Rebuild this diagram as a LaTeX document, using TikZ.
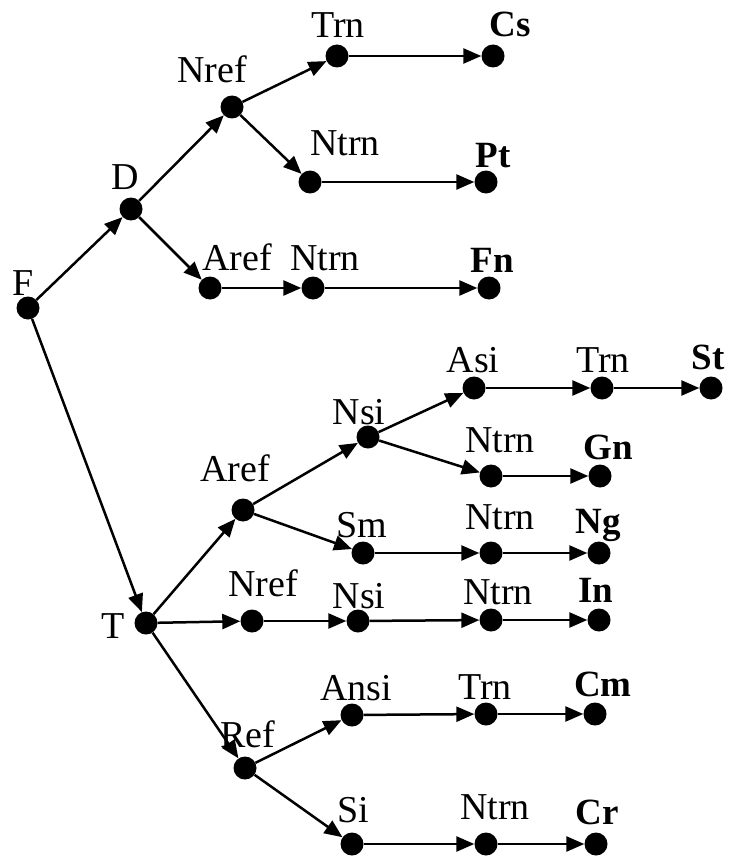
\documentclass[tikz,border=0pt]{standalone}
\usepackage{fontspec}
\setmainfont{Liberation Serif}
\usetikzlibrary{arrows.meta}
\begin{document}
\begin{tikzpicture}[x=1pt,y=-1pt,
  dot/.style={circle,fill=black,inner sep=0pt,minimum size=23pt},
  lbl/.style={inner sep=0pt,text height=25pt,text depth=0pt,
              font=\fontsize{38}{38}\selectfont},
  blbl/.style={lbl,font=\fontsize{37}{37}\selectfont\bfseries},
  edge/.style={line width=2.5pt,-{Triangle[length=18pt,width=15pt]}}]
\useasboundingbox (0,0) rectangle (729,856);
% states
\node[dot] (F) at (28,308) {};
\node[dot] (D) at (131,209) {};
\node[dot] (nrefA) at (232,107) {};
\node[dot] (trnA) at (337,56) {};
\node[dot] (cs) at (493,56) {};
\node[dot] (ntrnA) at (310,182) {};
\node[dot] (pt) at (486,182) {};
\node[dot] (arefA) at (210,288) {};
\node[dot] (ntrnB) at (313,288) {};
\node[dot] (fn) at (489,288) {};
\node[dot] (T) at (146,623) {};
\node[dot] (arefB) at (243,510) {};
\node[dot] (nsiA) at (368,437) {};
\node[dot] (asi) at (474,388) {};
\node[dot] (trnB) at (602,388) {};
\node[dot] (st) at (711,388) {};
\node[dot] (ntrnC) at (491,476) {};
\node[dot] (gn) at (600,476) {};
\node[dot] (sm) at (363,553) {};
\node[dot] (ntrnD) at (491,553) {};
\node[dot] (ng) at (599,553) {};
\node[dot] (nrefB) at (252,621) {};
\node[dot] (nsiB) at (358,621) {};
\node[dot] (ntrnE) at (491,620) {};
\node[dot] (in) at (599,620) {};
\node[dot] (ref) at (245,768) {};
\node[dot] (ansi) at (352,715) {};
\node[dot] (trnC) at (486,714) {};
\node[dot] (cm) at (595,714) {};
\node[dot] (si) at (352,844) {};
\node[dot] (ntrnF) at (486,844) {};
\node[dot] (cr) at (596,844) {};
% labels
\node[lbl] (lF) at (23,283) {F};
\node[lbl] (lD) at (125,177) {D};
\node[lbl] (lnrefA) at (212,70) {Nref};
\node[lbl] (ltrnA) at (338,25) {Trn};
\node[blbl] (lcs) at (510,24) {Cs};
\node[lbl] (lntrnA) at (345,143) {Ntrn};
\node[blbl] (lpt) at (493,155) {Pt};
\node[lbl] (larefA) at (237,258) {Aref};
\node[lbl] (lntrnB) at (325,258) {Ntrn};
\node[blbl] (lfn) at (492,260) {Fn};
\node[lbl] (lT) at (113,626) {T};
\node[lbl] (larefB) at (235,469) {Aref};
\node[lbl] (lnsiA) at (359,412) {Nsi};
\node[lbl] (lasi) at (473,360) {Asi};
\node[lbl] (ltrnB) at (603,360) {Trn};
\node[blbl] (lst) at (708,357) {St};
\node[lbl] (lntrnC) at (500,440) {Ntrn};
\node[blbl] (lgn) at (608,447) {Gn};
\node[lbl] (lsm) at (362,525) {Sm};
\node[lbl] (lntrnD) at (500,517) {Ntrn};
\node[blbl] (lng) at (598,521) {Ng};
\node[lbl] (lnrefB) at (263,584) {Nref};
\node[lbl] (lnsiB) at (359,596) {Nsi};
\node[lbl] (lntrnE) at (498,592) {Ntrn};
\node[blbl] (lin) at (596,590) {In};
\node[lbl] (lref) at (248,735) {Ref};
\node[lbl] (lansi) at (356,688) {Ansi};
\node[lbl] (ltrnC) at (485,687) {Trn};
\node[blbl] (lcm) at (603,684) {Cm};
\node[lbl] (lsi) at (353,810) {Si};
\node[lbl] (lntrnF) at (495,807) {Ntrn};
\node[blbl] (lcr) at (597,812) {Cr};
% transitions
\draw[edge] (F) -- (D);
\draw[edge] (F) -- (T);
\draw[edge] (D) -- (nrefA);
\draw[edge] (D) -- (arefA);
\draw[edge] (nrefA) -- (trnA);
\draw[edge] (nrefA) -- (ntrnA);
\draw[edge] (trnA) -- (cs);
\draw[edge] (ntrnA) -- (pt);
\draw[edge] (arefA) -- (ntrnB);
\draw[edge] (ntrnB) -- (fn);
\draw[edge] (T) -- (arefB);
\draw[edge] (T) -- (nrefB);
\draw[edge] (T) -- (ref);
\draw[edge] (arefB) -- (nsiA);
\draw[edge] (arefB) -- (sm);
\draw[edge] (nsiA) -- (asi);
\draw[edge] (nsiA) -- (ntrnC);
\draw[edge] (asi) -- (trnB);
\draw[edge] (trnB) -- (st);
\draw[edge] (ntrnC) -- (gn);
\draw[edge] (sm) -- (ntrnD);
\draw[edge] (ntrnD) -- (ng);
\draw[edge] (nrefB) -- (nsiB);
\draw[edge] (nsiB) -- (ntrnE);
\draw[edge] (ntrnE) -- (in);
\draw[edge] (ref) -- (ansi);
\draw[edge] (ansi) -- (trnC);
\draw[edge] (trnC) -- (cm);
\draw[edge] (ref) -- (si);
\draw[edge] (si) -- (ntrnF);
\draw[edge] (ntrnF) -- (cr);
\end{tikzpicture}
\end{document}
